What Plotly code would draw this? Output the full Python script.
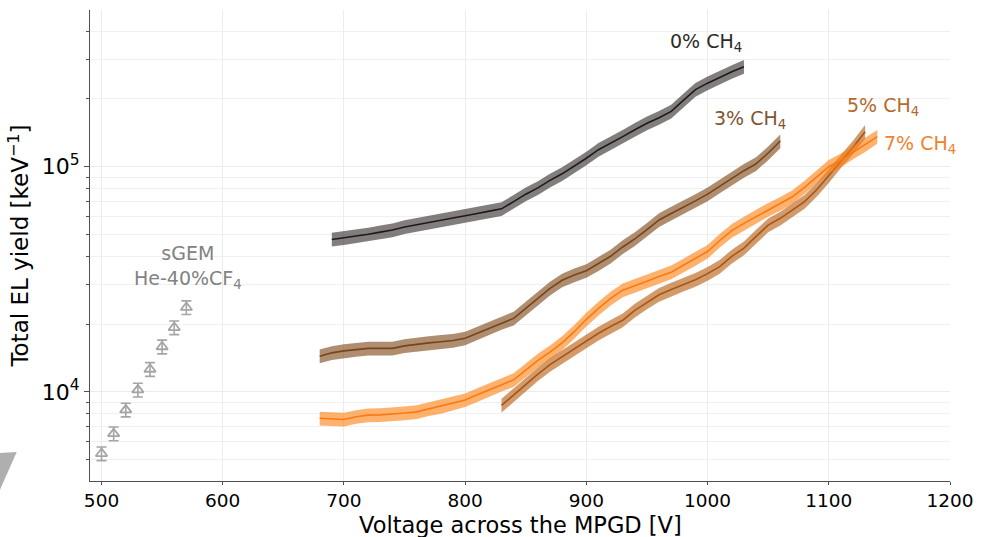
import numpy as np
import plotly.graph_objects as go

# ---- data -------------------------------------------------------------
v_0 = list(range(690, 1031, 10))
y_0 = [47500, 48300, 49300, 50100, 51200, 52300, 54000, 55200, 56500, 57800,
       59000, 60500, 62000, 63500, 65000, 70000, 75500, 80500, 87000, 93000,
       100500, 109000, 119000, 127000, 136000, 146000, 156000, 165000, 176000,
       197000, 220000, 235000, 250000, 264000, 278000]

v_3 = list(range(680, 1061, 10))
y_3 = [14400, 14900, 15200, 15400, 15600, 15600, 15600, 16000, 16300, 16500,
       16700, 16900, 17300, 18200, 19200, 20300, 21200, 23500, 26000, 28800,
       31300, 33000, 34500, 37000, 40000, 44000, 47800, 52500, 58000, 62000,
       66000, 70500, 75500, 82000, 89000, 96000, 103000, 115000, 130000]

v_5 = list(range(830, 1131, 10))
y_5 = [8700, 9700, 10800, 12000, 13200, 14300, 15500, 16800, 18200, 19500,
       20800, 23000, 25000, 27000, 28500, 30000, 31500, 33500, 36000, 40000,
       43500, 49000, 55000, 59000, 64000, 70000, 79000, 91000, 106000, 122000,
       143000]

v_7 = list(range(680, 1141, 10))
y_7 = [7630, 7600, 7540, 7750, 7880, 7900, 7960, 8050, 8150, 8400,
       8600, 8900, 9200, 9700, 10200, 10800, 11300, 12500, 13800, 15000,
       16500, 18500, 21000, 23500, 26000, 28300, 29500, 31000, 32500, 34000,
       36500, 39000, 42000, 47000, 52000, 56000, 60000, 64500, 68500, 73500,
       81000, 90000, 100000, 107000, 116000, 125000, 136000]

rel_err = 0.07  # relative half-width of the uncertainty bands

v_sgem = [500, 510, 520, 530, 540, 550, 560, 570]
y_sgem = [5320, 6520, 8320, 10200, 12600, 15860, 19300, 23700]
sgem_err = 0.07

series_labels = ["0% CH<sub>4</sub>", "3% CH<sub>4</sub>", "5% CH<sub>4</sub>", "7% CH<sub>4</sub>"]
label_v = [999, 1035, 1145, 1175]
label_y = [3.55e5, 1.62e5, 1.85e5, 1.26e5]
x_ticks = [500, 600, 700, 800, 900, 1000, 1100, 1200]

# ---- styling ----------------------------------------------------------
FONT = "DejaVu Sans"
styles = [
    dict(line="rgb(32,25,25)", fill="rgba(40,33,33,0.58)", text="rgb(45,42,42)"),
    dict(line="rgb(120,68,25)", fill="rgba(125,71,25,0.62)", text="rgb(130,85,50)"),
    dict(line="rgb(170,85,20)", fill="rgba(180,88,10,0.6)", text="rgb(180,105,45)"),
    dict(line="rgb(248,122,20)", fill="rgba(255,127,14,0.6)", text="rgb(240,130,45)"),
]

fig = go.Figure()

curves = [(v_0, y_0), (v_3, y_3), (v_5, y_5), (v_7, y_7)]
for (vx, vy), st in zip(curves, styles):
    vy = np.asarray(vy, dtype=float)
    hi = vy * (1 + rel_err)
    lo = vy * (1 - rel_err)
    fig.add_trace(go.Scatter(
        x=list(vx) + list(vx)[::-1],
        y=list(hi) + list(lo)[::-1],
        fill="toself", fillcolor=st["fill"],
        line=dict(width=0), mode="lines", hoverinfo="skip", showlegend=False))
    fig.add_trace(go.Scatter(
        x=vx, y=vy, mode="lines",
        line=dict(color=st["line"], width=1.6), showlegend=False))

# sGEM reference points
ys = np.asarray(y_sgem, dtype=float)
fig.add_trace(go.Scatter(
    x=v_sgem, y=ys, mode="markers",
    marker=dict(symbol="triangle-up-open", size=10, color="rgb(165,165,165)",
                line=dict(width=1.8, color="rgb(165,165,165)")),
    error_y=dict(type="data", symmetric=False,
                 array=list(ys * sgem_err), arrayminus=list(ys * sgem_err),
                 color="rgb(165,165,165)", thickness=1.6, width=5),
    showlegend=False))

# curve labels
for lx, ly, txt, st in zip(label_v, label_y, series_labels, styles):
    fig.add_annotation(x=lx, y=np.log10(ly), text=txt, showarrow=False,
                       font=dict(family=FONT, size=19, color=st["text"]))

fig.add_annotation(x=571, y=np.log10(3.6e4), text="sGEM<br>He-40%CF<sub>4</sub>",
                   showarrow=False, align="center",
                   font=dict(family=FONT, size=19, color="rgb(130,130,130)"))

# grey wedge at the lower-left corner
fig.add_shape(type="path", xref="paper", yref="paper",
              path="M -0.1047,0.0594 L -0.0852,0.0616 L -0.1047,-0.019 Z",
              fillcolor="rgb(175,175,175)", line=dict(width=0), layer="above")

# x-axis title
fig.add_annotation(xref="paper", yref="paper", x=0.5, y=-0.093,
                   xanchor="center", yanchor="middle", showarrow=False,
                   borderpad=0,
                   text="Voltage across the MPGD [V]",
                   font=dict(family=FONT, size=22.5, color="black"))

minor_vals = [m * 10 ** e for e in (3, 4, 5) for m in range(2, 10)]

fig.update_layout(
    width=981, height=537,
    margin=dict(l=90, r=31, t=10, b=56),
    paper_bgcolor="white", plot_bgcolor="white",
    font=dict(family=FONT, size=18, color="black"),
    xaxis=dict(
        range=[490.5, 1200], tickvals=x_ticks, automargin=False,
        ticks="outside", ticklen=3, tickwidth=1, tickcolor="rgb(80,80,80)",
        showline=True, linecolor="rgb(80,80,80)", linewidth=1,
        showgrid=True, gridcolor="rgb(236,236,236)", gridwidth=1,
        zeroline=False,
        tickfont=dict(family=FONT, size=18.5),
    ),
    yaxis=dict(
        type="log", range=[3.604, 5.696], automargin=False,
        tickvals=[1e4, 1e5], ticktext=["10<sup>4</sup>", "10<sup>5</sup>"],
        ticks="outside", ticklen=5, tickwidth=1, tickcolor="rgb(80,80,80)",
        showline=True, linecolor="rgb(80,80,80)", linewidth=1,
        showgrid=True, gridcolor="rgb(236,236,236)", gridwidth=1,
        zeroline=False,
        minor=dict(tickvals=minor_vals, ticks="outside", ticklen=3,
                   tickcolor="rgb(80,80,80)", showgrid=True,
                   gridcolor="rgb(240,240,240)", gridwidth=1),
        tickfont=dict(family=FONT, size=22),
        title=dict(text="Total EL yield [keV<sup>\u22121</sup>]",
                   font=dict(family=FONT, size=23), standoff=6),
    ),
)

fig.write_html("out.html")
